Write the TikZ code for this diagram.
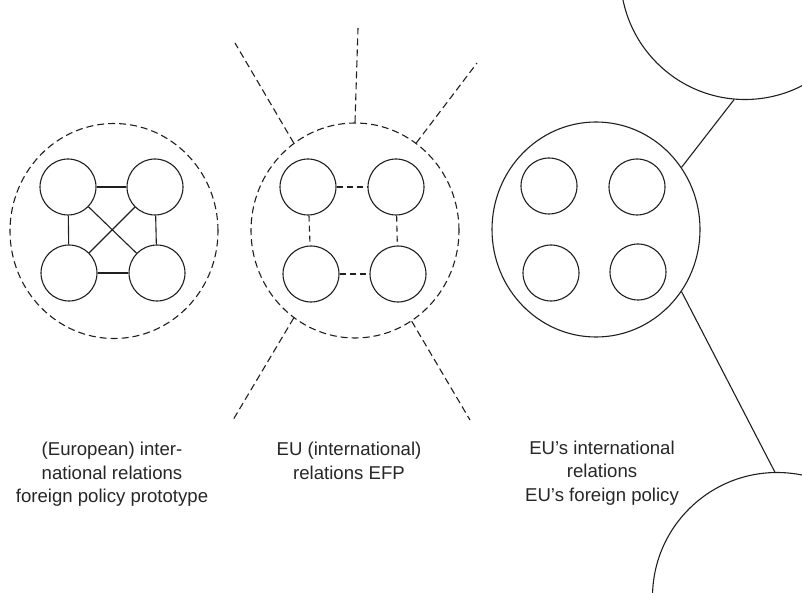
\documentclass[tikz,border=0pt]{standalone}
\usepackage{fontspec}
\setmainfont{Liberation Sans}
\usetikzlibrary{shapes.geometric}
\begin{document}
\begin{tikzpicture}[x=1pt,y=-1pt,
  ink/.style={draw=black!88,line width=1.1pt},
  dashpat/.style={dash pattern=on 7pt off 4pt},
  sub/.style={ink,circle,minimum size=56pt,inner sep=0pt},
  ring/.style={ink,ellipse,minimum width=208pt,minimum height=215pt,inner sep=0pt},
  dashring/.style={ring,dashpat},
  big/.style={ink,circle,minimum size=249pt,inner sep=0pt},
  link/.style={ink},
  dlink/.style={ink,dashpat},
  caption/.style={align=center,text=black!85,font=\fontsize{18.6}{23.5}\selectfont}]
\useasboundingbox (0,0) rectangle (802,593);
\clip (0,0) rectangle (802,593);

% left group: fully linked members inside a dashed boundary
\node[dashring] (lg) at (114,231) {};
\node[sub] (l1) at (68,187) {};
\node[sub] (l2) at (155,187) {};
\node[sub] (l3) at (69,273) {};
\node[sub] (l4) at (157,273) {};
\draw[link] (l1) -- (l2);
\draw[link] (l3) -- (l4);
\draw[link] (l1) -- (l3);
\draw[link] (l2) -- (l4);
\draw[link] (l1) -- (l4);
\draw[link] (l2) -- (l3);

% middle group: loosely linked members, open boundary with rays
\node[dashring] (mg) at (355,230.5) {};
\node[sub] (m1) at (308,187) {};
\node[sub] (m2) at (396,187) {};
\node[sub] (m3) at (311,274) {};
\node[sub] (m4) at (398,274) {};
\draw[dlink,dash pattern=on 6pt off 4pt] (m1) -- (m2);
\draw[dlink,dash pattern=on 6pt off 4pt] (m3) -- (m4);
\draw[dlink,dash pattern=on 6pt off 4pt] (m1) -- (m3);
\draw[dlink,dash pattern=on 6pt off 4pt] (m2) -- (m4);
\coordinate (rt) at (358,28);
\coordinate (rul) at (235,43);
\coordinate (rur) at (477,63);
\coordinate (rll) at (233,420);
\coordinate (rlr) at (470,420);
\draw[dlink] (mg.90) -- (rt);
\draw[dlink] (mg.125.3) -- (rul);
\draw[dlink] (mg.55.9) -- (rur);
\draw[dlink] (mg.235.5) -- (rll);
\draw[dlink] (mg.302.4) -- (rlr);

% right group: closed boundary tied to outside actors
\node[ring] (rg) at (596,229.5) {};
\node[sub] (r1) at (549,186) {};
\node[sub] (r2) at (637,187) {};
\node[sub] (r3) at (551,273) {};
\node[sub] (r4) at (638,272) {};
\node[big] (ta) at (745,-25) {};
\node[big] (ba) at (777,597) {};
\draw[link] (rg.36) -- (ta.265.4);
\draw[link] (rg.324) -- (ba.91);

% captions
\node[caption] (cl) at (112,474.5) {(European) inter-\\national relations\\foreign policy prototype};
\node[caption] (cm) at (349,461) {EU (international)\\relations EFP};
\node[caption] (cr) at (602,473) {EU’s international\\relations\\EU’s foreign policy};
\end{tikzpicture}
\end{document}
